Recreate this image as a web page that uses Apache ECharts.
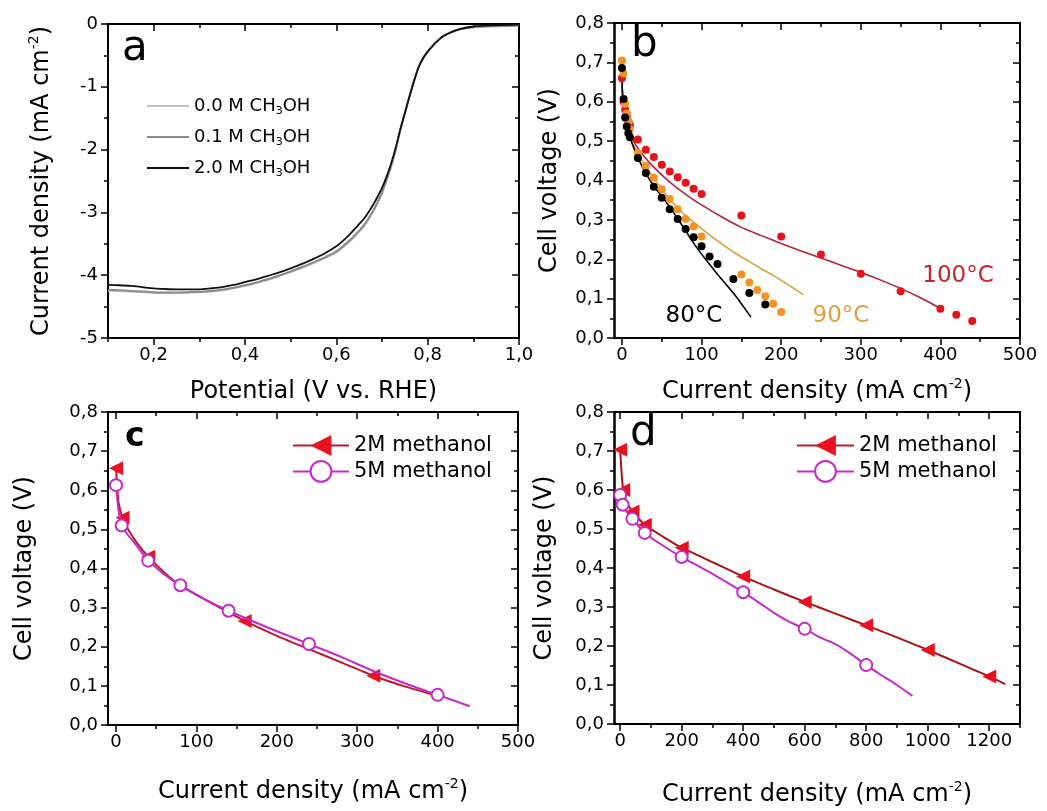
<!DOCTYPE html>
<html>
<head>
<meta charset="utf-8">
<script src="https://cdn.jsdelivr.net/npm/echarts@6/dist/echarts.min.js"></script>
<style>
html,body{margin:0;padding:0;background:#fff;}
#chart{width:1047px;height:811px;}
</style>
</head>
<body>
<div id="chart"></div>
<script>
// ---------------- DATA ----------------
// Panel a: ORR polarisation curves (potential in V vs RHE, current density in mA cm-2)
const potentialA = [0.10,0.125,0.15,0.175,0.20,0.225,0.25,0.275,0.30,0.325,0.35,0.375,0.40,0.425,0.45,0.475,0.50,0.525,0.55,0.575,0.60,0.615,0.63,0.645,0.66,0.67,0.68,0.69,0.70,0.71,0.72,0.73,0.74,0.75,0.76,0.77,0.78,0.79,0.80,0.81,0.82,0.83,0.84,0.85,0.87,0.90,0.95,1.00];
const j00M = [-4.25,-4.255,-4.26,-4.27,-4.28,-4.285,-4.285,-4.28,-4.275,-4.26,-4.24,-4.21,-4.17,-4.125,-4.075,-4.015,-3.95,-3.885,-3.81,-3.73,-3.64,-3.555,-3.46,-3.35,-3.225,-3.12,-3.0,-2.86,-2.70,-2.50,-2.27,-2.01,-1.70,-1.43,-1.16,-0.91,-0.69,-0.545,-0.44,-0.355,-0.28,-0.215,-0.17,-0.14,-0.09,-0.055,-0.035,-0.02];
const j01M = [-4.23,-4.24,-4.25,-4.26,-4.27,-4.275,-4.275,-4.27,-4.265,-4.25,-4.23,-4.20,-4.16,-4.115,-4.065,-4.005,-3.94,-3.87,-3.795,-3.715,-3.62,-3.535,-3.44,-3.33,-3.205,-3.10,-2.98,-2.84,-2.68,-2.48,-2.26,-2.00,-1.69,-1.42,-1.16,-0.91,-0.69,-0.545,-0.44,-0.355,-0.28,-0.215,-0.17,-0.135,-0.085,-0.05,-0.035,-0.025];
const j20M = [-4.155,-4.16,-4.17,-4.19,-4.21,-4.22,-4.225,-4.225,-4.225,-4.21,-4.19,-4.155,-4.11,-4.065,-4.01,-3.955,-3.89,-3.82,-3.74,-3.65,-3.54,-3.45,-3.345,-3.225,-3.105,-3.00,-2.885,-2.755,-2.61,-2.43,-2.22,-1.97,-1.68,-1.42,-1.16,-0.91,-0.69,-0.545,-0.44,-0.355,-0.28,-0.215,-0.17,-0.135,-0.08,-0.04,-0.02,-0.01];
const legendA = ['0.0 M CH3OH','0.1 M CH3OH','2.0 M CH3OH'];

// Panel b: polarisation at 80/90/100 °C (measured points and fitted curves)
const b100Points = [[0,0.66],[2,0.6],[4,0.58],[6,0.563],[8,0.55],[10,0.54],[20,0.504],[30,0.478],[40,0.46],[50,0.44],[60,0.423],[70,0.408],[80,0.394],[90,0.379],[100,0.366],[150,0.311],[200,0.258],[250,0.212],[300,0.163],[350,0.119],[400,0.074],[420,0.059],[440,0.043]];
const b90Points = [[0,0.705],[2,0.672],[4,0.595],[6,0.57],[8,0.55],[10,0.53],[20,0.47],[30,0.437],[40,0.407],[50,0.378],[60,0.353],[70,0.327],[80,0.302],[90,0.283],[100,0.258],[150,0.161],[160,0.141],[170,0.122],[180,0.106],[190,0.087],[200,0.066]];
const b80Points = [[0,0.686],[2,0.607],[4,0.56],[6,0.537],[8,0.52],[10,0.51],[20,0.457],[30,0.419],[40,0.384],[50,0.356],[60,0.327],[70,0.302],[80,0.277],[90,0.256],[100,0.233],[110,0.207],[120,0.188],[140,0.15],[160,0.114],[180,0.085]];
const b100Fit = [[0,0.645],[1,0.61],[2,0.585],[4,0.56],[6,0.543],[10,0.52],[15,0.498],[20,0.482],[30,0.456],[40,0.434],[55,0.405],[70,0.38],[85,0.358],[100,0.338],[125,0.308],[150,0.281],[175,0.26],[200,0.24],[225,0.221],[250,0.203],[275,0.185],[300,0.167],[325,0.147],[350,0.126],[375,0.102],[400,0.075]];
const b90Fit = [[0,0.645],[1,0.61],[2,0.585],[4,0.558],[6,0.54],[10,0.512],[15,0.488],[20,0.468],[30,0.435],[40,0.406],[55,0.365],[70,0.33],[85,0.302],[100,0.278],[115,0.254],[130,0.232],[145,0.212],[160,0.194],[175,0.176],[190,0.159],[205,0.14],[215,0.127],[228,0.11]];
const b80Fit = [[0,0.65],[1,0.61],[2,0.585],[4,0.556],[6,0.537],[10,0.51],[15,0.482],[20,0.458],[30,0.418],[40,0.386],[50,0.36],[60,0.333],[70,0.303],[80,0.272],[90,0.241],[100,0.213],[110,0.187],[120,0.162],[130,0.138],[140,0.114],[150,0.087],[162,0.053]];
const tempLabels = ['80°C','90°C','100°C'];

// Panel c (line points; markers only at the listed indices)
const c2M = [[0,0.656],[3,0.57],[8,0.53],[15,0.5],[25,0.468],[40,0.43],[60,0.39],[80,0.357],[120,0.31],[160,0.266],[200,0.228],[240,0.194],[280,0.16],[320,0.126],[360,0.098],[400,0.074]];
const c2MMarked = [0,2,5,9,13];
const c5M = [[0,0.613],[3,0.55],[7,0.51],[15,0.485],[25,0.46],[40,0.42],[60,0.385],[80,0.357],[110,0.322],[140,0.292],[190,0.248],[240,0.207],[280,0.174],[320,0.138],[360,0.106],[400,0.077],[440,0.048]];
const c5MMarked = [0,2,5,7,9,11,15];

// Panel d
const d2M = [[0,0.703],[5,0.64],[10,0.60],[20,0.57],[40,0.545],[80,0.511],[140,0.48],[200,0.452],[300,0.415],[400,0.378],[500,0.345],[600,0.313],[700,0.283],[800,0.253],[900,0.222],[1000,0.19],[1100,0.156],[1200,0.122],[1252,0.102]];
const d2MMarked = [0,2,4,5,7,9,11,13,15,17];
const d5M = [[0,0.587],[8,0.562],[20,0.545],[40,0.526],[80,0.49],[140,0.457],[200,0.428],[300,0.385],[400,0.338],[450,0.312],[500,0.285],[550,0.262],[600,0.244],[650,0.222],[700,0.205],[750,0.18],[800,0.151],[850,0.125],[900,0.1],[950,0.072]];
const d5MMarked = [0,1,3,4,6,8,12,16];

const seriesNames = ['2M methanol','5M methanol'];

// Tick values
const xTicksA = [0.2,0.4,0.6,0.8,1.0];
const xMinorA = [0.1,0.3,0.5,0.7,0.9];
const xTicksBC = [0,100,200,300,400,500];
const xMinorBC = [50,150,250,350,450];
const xTicksD = [0,200,400,600,800,1000,1200];
const xMinorD = [100,300,500,700,900,1100,1300];

// ---------------- STYLE / HELPERS ----------------
const FONT = 'DejaVu Sans';
const BLACK = '#000';
const comma1 = v => (Math.round(v*10)/10).toFixed(1).replace('.', ',');
const intFmt = v => String(Math.round(v));

function nameStyle(){
  return {fontFamily:FONT,fontSize:24,color:BLACK,lineHeight:30,
    rich:{sup:{fontFamily:FONT,fontSize:14,lineHeight:14,verticalAlign:'top',color:BLACK}}};
}
const tickLine = {color:BLACK,width:1.5};
function makeXAxes(g,min,max,major,minor,fmt,name,gap){
  const base = {type:'value',gridIndex:g,min:min,max:max,splitLine:{show:false}};
  return [
    Object.assign({},base,{position:'bottom',
      axisLine:{show:true,onZero:false,lineStyle:{color:BLACK,width:2}},
      axisTick:{show:true,inside:false,length:7,customValues:major,lineStyle:tickLine},
      axisLabel:{show:true,customValues:major,formatter:fmt,margin:8,color:BLACK,fontSize:18,fontFamily:FONT},
      name:name,nameLocation:'middle',nameGap:gap,nameTextStyle:nameStyle()}),
    Object.assign({},base,{position:'bottom',
      axisLine:{show:false,onZero:false},
      axisTick:{show:true,inside:false,length:4,customValues:minor,lineStyle:tickLine},
      axisLabel:{show:false}}),
    Object.assign({},base,{position:'top',
      axisLine:{show:true,onZero:false,lineStyle:{color:BLACK,width:2}},
      axisTick:{show:true,inside:true,length:7,customValues:major,lineStyle:tickLine},
      axisLabel:{show:false}}),
    Object.assign({},base,{position:'top',
      axisLine:{show:false,onZero:false},
      axisTick:{show:true,inside:true,length:4,customValues:minor,lineStyle:tickLine},
      axisLabel:{show:false}})
  ];
}
function makeYAxes(g,min,max,interval,fmt,name,gap,lineW){
  return [
    {type:'value',gridIndex:g,position:'left',min:min,max:max,interval:interval,splitLine:{show:false},
      axisLine:{show:true,onZero:false,lineStyle:{color:BLACK,width:lineW}},
      axisTick:{show:true,inside:false,length:7,lineStyle:tickLine},
      minorTick:{show:true,splitNumber:2,length:4,lineStyle:tickLine},
      axisLabel:{formatter:fmt,margin:10,color:BLACK,fontSize:18,fontFamily:FONT},
      name:name,nameLocation:'middle',nameGap:gap,nameTextStyle:nameStyle()},
    {type:'value',gridIndex:g,position:'right',min:min,max:max,interval:interval,splitLine:{show:false},
      axisLine:{show:true,onZero:false,lineStyle:{color:BLACK,width:2}},
      axisTick:{show:true,inside:true,length:7,lineStyle:tickLine},
      minorTick:{show:true,splitNumber:2,length:4,lineStyle:tickLine},
      axisLabel:{show:false}}
  ];
}
function withMarkers(points,marked){
  return points.map((p,i)=> marked.indexOf(i)>=0 ? {value:p} : {value:p,symbol:'none'});
}
const CD = 'Current density (mA cm{sup|-2})';
const CV = 'Cell voltage (V)';

const xAxes = [].concat(
  makeXAxes(0,0.1,1.0,xTicksA,xMinorA,v=>v.toFixed(1).replace('.',','),'Potential (V vs. RHE)',39),
  makeXAxes(1,-10,500,xTicksBC,xMinorBC,intFmt,CD,39),
  makeXAxes(2,-10,500,xTicksBC,xMinorBC,intFmt,CD,52),
  makeXAxes(3,-20,1300,xTicksD,xMinorD,intFmt,CD,56)
);
const yAxes = [].concat(
  makeYAxes(0,-5,0,1,intFmt,CD,51,2),
  makeYAxes(1,0,0.8,0.1,comma1,CV,49,2.5),
  makeYAxes(2,0,0.8,0.1,comma1,CV,68,2),
  makeYAxes(3,0,0.8,0.1,comma1,CV,54,2.5)
);

const gray = ['#c2c2c2','#8a8a8a','#111111'];
const aSeries = [j00M,j01M,j20M].map((arr,i)=>({
  type:'line',name:legendA[i],xAxisIndex:0,yAxisIndex:0,
  data:potentialA.map((x,k)=>[x,arr[k]]),
  showSymbol:false,symbol:'none',smooth:0.3,
  itemStyle:{color:gray[i]},lineStyle:{color:gray[i],width:i===1?2:1.8},z:2+i
}));

const bFits = [
  {d:b100Fit,c:'#b1233f'},{d:b90Fit,c:'#d8a23f'},{d:b80Fit,c:'#000000'}
].map(o=>({type:'line',xAxisIndex:4,yAxisIndex:2,data:o.d,showSymbol:false,symbol:'none',
  smooth:0.2,lineStyle:{color:o.c,width:1.6},z:2}));
const bDots = [
  {d:b100Points,c:'#e3141b'},{d:b90Points,c:'#f39325'},{d:b80Points,c:'#000000'}
].map(o=>({type:'scatter',xAxisIndex:4,yAxisIndex:2,data:o.d,symbolSize:8,
  itemStyle:{color:o.c,opacity:1},z:3}));

function methSeries(gi,pts2,mk2,pts5,mk5,line2){
  return [
    {type:'line',name:seriesNames[0],xAxisIndex:gi*4,yAxisIndex:gi*2,data:withMarkers(pts2,mk2),
      symbol:'triangle',symbolRotate:90,symbolSize:14,showAllSymbol:true,smooth:0.2,
      itemStyle:{color:'#ea1020'},lineStyle:{color:line2,width:2},z:3},
    {type:'line',name:seriesNames[1],xAxisIndex:gi*4,yAxisIndex:gi*2,data:withMarkers(pts5,mk5),
      symbol:'emptyCircle',symbolSize:12,showAllSymbol:true,smooth:0.2,
      itemStyle:{color:'#c42bc8',borderWidth:1.5},lineStyle:{color:'#c42bc8',width:2},z:4}
  ];
}

const option = {
  animation:false,
  backgroundColor:'#fff',
  textStyle:{fontFamily:FONT},
  grid:[
    {left:108,top:24,width:411,height:314},
    {left:614,top:23,width:406,height:315},
    {left:108,top:412,width:410,height:313},
    {left:614,top:412,width:406,height:313}
  ],
  xAxis:xAxes,
  yAxis:yAxes,
  legend:[
    {data:legendA,orient:'vertical',left:142,top:90,itemWidth:42,itemHeight:2,itemGap:9,icon:'rect',
      selectedMode:false,formatter:n=>n.replace('CH3OH','CH{sub|3}OH'),
      textStyle:{fontFamily:FONT,fontSize:18,color:BLACK,lineHeight:22,
        rich:{sub:{fontFamily:FONT,fontSize:11,lineHeight:11,verticalAlign:'bottom',color:BLACK}}}},
    {data:seriesNames,orient:'vertical',left:287,top:430,itemWidth:56,itemHeight:26,itemGap:4,
      selectedMode:false,textStyle:{fontFamily:FONT,fontSize:21,color:BLACK}},
    {data:seriesNames,orient:'vertical',left:791,top:430,itemWidth:57,itemHeight:26,itemGap:4,
      selectedMode:false,textStyle:{fontFamily:FONT,fontSize:21,color:BLACK}}
  ],
  graphic:[
    {type:'text',x:122,y:49,style:{text:'a',fontSize:42,fontFamily:FONT,fill:BLACK,align:'left',verticalAlign:'middle'}},
    {type:'text',x:631,y:45,style:{text:'b',fontSize:42,fontFamily:FONT,fill:BLACK,align:'left',verticalAlign:'middle'}},
    {type:'text',x:125,y:437,style:{text:'c',fontSize:33,fontWeight:'bold',fontFamily:FONT,fill:BLACK,align:'left',verticalAlign:'middle'}},
    {type:'text',x:630,y:434,style:{text:'d',fontSize:42,fontFamily:FONT,fill:BLACK,align:'left',verticalAlign:'middle'}},
    {type:'text',x:694,y:316,style:{text:tempLabels[0],fontSize:23,fontFamily:FONT,fill:'#000',align:'center',verticalAlign:'middle'}},
    {type:'text',x:841,y:316,style:{text:tempLabels[1],fontSize:23,fontFamily:FONT,fill:'#e0a040',align:'center',verticalAlign:'middle'}},
    {type:'text',x:958,y:276,style:{text:tempLabels[2],fontSize:23,fontFamily:FONT,fill:'#c3262f',align:'center',verticalAlign:'middle'}}
  ],
  series:[].concat(
    aSeries,
    bFits, bDots,
    methSeries(2,c2M,c2MMarked,c5M,c5MMarked,'#c0182e'),
    methSeries(3,d2M,d2MMarked,d5M,d5MMarked,'#a81414')
  )
};
const chart = echarts.init(document.getElementById('chart'),null,{renderer:'canvas'});
chart.setOption(option);
</script>
</body>
</html>
